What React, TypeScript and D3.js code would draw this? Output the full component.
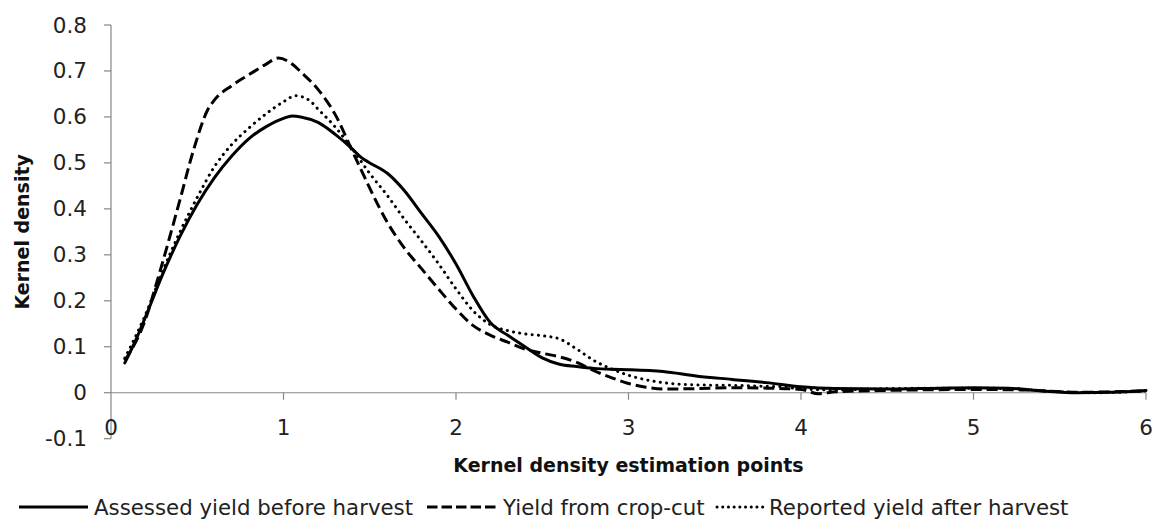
import React from "react";
import * as d3 from "d3";

// ---- data ----
const assessedX = [0.08, 0.15, 0.2, 0.3, 0.4, 0.5, 0.6, 0.7, 0.8, 0.9, 1.0, 1.05, 1.1, 1.2, 1.3, 1.4, 1.45, 1.5, 1.6, 1.7, 1.8, 1.9, 2.0, 2.1, 2.2, 2.3, 2.4, 2.5, 2.6, 2.7, 2.8, 2.9, 3.0, 3.2, 3.4, 3.6, 3.8, 4.0, 4.2, 4.5, 4.8, 5.0, 5.2, 5.4, 5.6, 5.8, 6.0];
const assessedY = [0.065, 0.12, 0.165, 0.258, 0.34, 0.41, 0.468, 0.515, 0.553, 0.579, 0.597, 0.602, 0.6, 0.588, 0.562, 0.53, 0.512, 0.5, 0.478, 0.44, 0.39, 0.34, 0.28, 0.21, 0.152, 0.125, 0.1, 0.076, 0.062, 0.057, 0.053, 0.051, 0.05, 0.046, 0.036, 0.029, 0.022, 0.013, 0.009, 0.008, 0.01, 0.011, 0.01, 0.004, 0.0, 0.001, 0.005];

const cropCutX = [0.08, 0.2, 0.27, 0.4, 0.48, 0.56, 0.6, 0.7, 0.8, 0.9, 0.97, 1.05, 1.1, 1.2, 1.3, 1.4, 1.45, 1.5, 1.6, 1.7, 1.8, 1.9, 2.0, 2.1, 2.2, 2.3, 2.4, 2.5, 2.6, 2.7, 2.8, 2.9, 3.0, 3.1, 3.2, 3.4, 3.6, 3.8, 4.0, 4.1, 4.2, 4.5, 5.0, 5.3, 5.6, 6.0];
const cropCutY = [0.07, 0.16, 0.246, 0.42, 0.53, 0.615, 0.637, 0.668, 0.692, 0.715, 0.728, 0.715, 0.698, 0.66, 0.605, 0.525, 0.485, 0.445, 0.372, 0.315, 0.27, 0.225, 0.182, 0.146, 0.125, 0.11, 0.095, 0.086, 0.078, 0.066, 0.048, 0.033, 0.02, 0.012, 0.008, 0.009, 0.011, 0.01, 0.007, -0.002, 0.002, 0.005, 0.007, 0.006, 0.001, 0.004];

const reportedX = [0.08, 0.2, 0.3, 0.4, 0.5, 0.6, 0.7, 0.8, 0.9, 1.0, 1.07, 1.15, 1.2, 1.3, 1.4, 1.5, 1.6, 1.7, 1.8, 1.9, 2.0, 2.1, 2.2, 2.3, 2.4, 2.5, 2.6, 2.7, 2.8, 2.9, 3.0, 3.2, 3.4, 3.6, 3.8, 3.9, 4.0, 4.2, 4.5, 5.0, 5.2, 5.5, 5.7, 6.0];
const reportedY = [0.075, 0.17, 0.265, 0.35, 0.425, 0.492, 0.54, 0.576, 0.607, 0.633, 0.646, 0.636, 0.617, 0.578, 0.53, 0.477, 0.43, 0.378, 0.33, 0.28, 0.226, 0.178, 0.148, 0.135, 0.128, 0.124, 0.117, 0.095, 0.07, 0.052, 0.038, 0.022, 0.017, 0.016, 0.014, 0.013, 0.008, 0.006, 0.009, 0.01, 0.009, 0.002, 0.0, 0.004];

const seriesNames = ["Assessed yield before harvest", "Yield from crop-cut", "Reported yield after harvest"];
const xTicks = [0, 1, 2, 3, 4, 5, 6];
const yTicks = [-0.1, 0, 0.1, 0.2, 0.3, 0.4, 0.5, 0.6, 0.7, 0.8];
const xTitle = "Kernel density estimation points";
const yTitle = "Kernel density";

const W = 1155;
const H = 522;
const FONT = "'DejaVu Sans', sans-serif";
const AXIS = "#868686";

export default function App() {
  const x = d3.scaleLinear().domain([0, 6]).range([111, 1146]);
  const y = d3.scaleLinear().domain([-0.1, 0.8]).range([438.7, 25]);

  const line = d3
    .line<[number, number]>()
    .x((d) => x(d[0]))
    .y((d) => y(d[1]))
    .curve(d3.curveMonotoneX);

  const zip = (xs: number[], ys: number[]) => xs.map((v, i) => [v, ys[i]] as [number, number]);

  const styles = [
    { dash: undefined as string | undefined, cap: "round" as const },
    { dash: "11 5", cap: "butt" as const },
    { dash: "0.1 6.2", cap: "round" as const },
  ];
  const data = [zip(assessedX, assessedY), zip(cropCutX, cropCutY), zip(reportedX, reportedY)];

  const legend = [
    { x1: 19, x2: 88, tx: 94 },
    { x1: 427, x2: 498, tx: 503 },
    { x1: 717, x2: 763, tx: 769 },
  ];
  const legendY = 507;

  return (
    <svg width={W} height={H} style={{ position: "absolute", left: 0, top: 0, background: "#fff" }} fontFamily={FONT}>
      {/* axes */}
      <line x1={x(0)} x2={x(0)} y1={y(0.8)} y2={y(-0.1)} stroke={AXIS} strokeWidth={1.2} />
      {yTicks.map((t) => (
        <g key={"y" + t}>
          <line x1={x(0) - 7} x2={x(0)} y1={y(t)} y2={y(t)} stroke={AXIS} strokeWidth={1.2} />
          <text x={87} y={y(t)} textAnchor="end" dominantBaseline="central" fontSize={21.5} fill="#222">
            {t === 0 ? "0" : t.toFixed(1)}
          </text>
        </g>
      ))}
      <line x1={x(0)} x2={x(6)} y1={y(0)} y2={y(0)} stroke={AXIS} strokeWidth={1.2} />
      {xTicks.map((t) => (
        <g key={"x" + t}>
          {t > 0 && <line x1={x(t)} x2={x(t)} y1={y(0)} y2={y(0) + 7} stroke={AXIS} strokeWidth={1.2} />}
          <text x={x(t)} y={427} textAnchor="middle" dominantBaseline="central" fontSize={21.5} fill="#222">
            {t}
          </text>
        </g>
      ))}

      {/* titles */}
      <text x={(x(0) + x(6)) / 2} y={465} textAnchor="middle" dominantBaseline="central" fontSize={19} fontWeight="bold" fill="#111">
        {xTitle}
      </text>
      <text
        transform={`translate(22, ${(y(0.8) + y(-0.1)) / 2}) rotate(-90)`}
        textAnchor="middle"
        dominantBaseline="central"
        fontSize={19}
        fontWeight="bold"
        fill="#111"
      >
        {yTitle}
      </text>

      {/* series */}
      {data.map((d, i) => (
        <path
          key={"s" + i}
          d={line(d) || ""}
          fill="none"
          stroke="#000"
          strokeWidth={3}
          strokeDasharray={styles[i].dash}
          strokeLinecap={styles[i].cap}
          strokeLinejoin="round"
        />
      ))}

      {/* legend */}
      {legend.map((l, i) => (
        <g key={"l" + i}>
          <line
            x1={l.x1}
            x2={l.x2}
            y1={legendY}
            y2={legendY}
            stroke="#000"
            strokeWidth={3}
            strokeDasharray={i === 1 ? "10.5 4" : i === 2 ? "0.1 5.6" : undefined}
            strokeLinecap={i === 2 ? "round" : "butt"}
          />
          <text x={l.tx} y={legendY} dominantBaseline="central" fontSize={21.3} fill="#222">
            {seriesNames[i]}
          </text>
        </g>
      ))}
    </svg>
  );
}
